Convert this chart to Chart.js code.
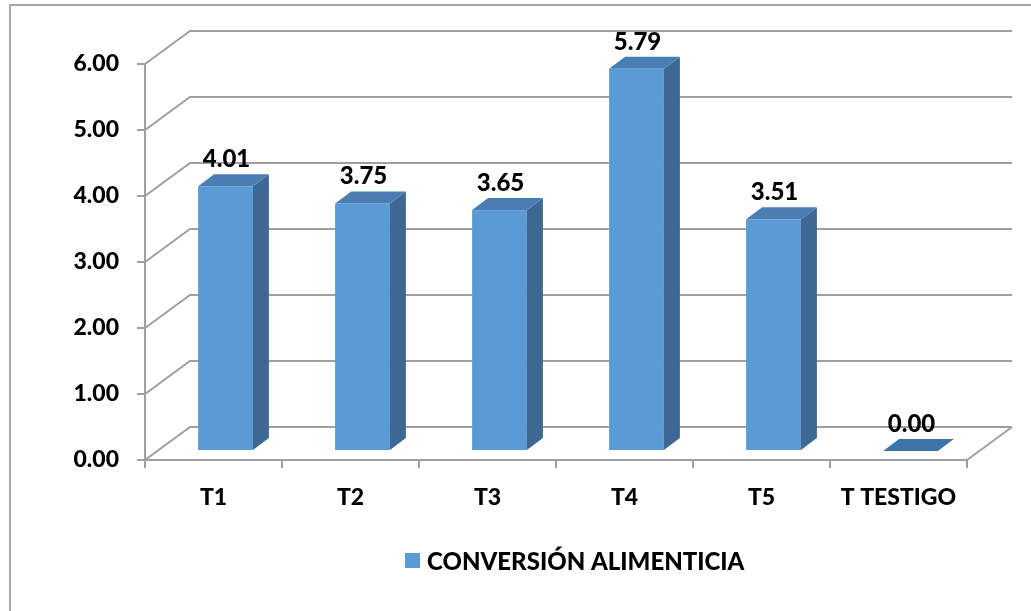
<!DOCTYPE html>
<html><head><meta charset="utf-8">
<script src="https://cdn.jsdelivr.net/npm/chart.js@4/dist/chart.umd.min.js"></script>
<style>html,body{margin:0;padding:0;background:#fff;} #wrap{position:relative;width:1031px;height:611px;}</style>
</head><body><div id="wrap"><canvas id="c" width="1031" height="611"></canvas></div>
<script>
const categories = ['T1', 'T2', 'T3', 'T4', 'T5', 'T TESTIGO'];
const conversion = [4.01, 3.75, 3.65, 5.79, 3.51, 0.00];
const seriesName = 'CONVERSIÓN ALIMENTICIA';
const yTicks = [0, 1, 2, 3, 4, 5, 6];

const FONT = 'Lato, "Open Sans", sans-serif';
const WEIGHT = '900';
const GRID = '#A0A0A0';
const FRONT = '#5B9BD5', SIDE = '#3C6893', TOP = '#4A7EB2';

const threeD = {
  id: 'threeD',
  beforeDraw(chart) {
    const ctx = chart.ctx;
    ctx.save();
    ctx.fillStyle = '#fff';
    ctx.fillRect(0, 0, chart.width, chart.height);
    ctx.strokeStyle = '#A8A8A8';
    ctx.lineWidth = 2;
    ctx.beginPath();
    ctx.moveTo(10, chart.height); ctx.lineTo(10, 5); ctx.lineTo(chart.width, 5);
    ctx.stroke();
    ctx.restore();
  },
  beforeDatasetsDraw(chart) {
    const {ctx, chartArea: a, scales: {y}} = chart;
    const DX = 45, DY = -33;
    ctx.save();
    ctx.strokeStyle = GRID;
    ctx.lineWidth = 2;
    yTicks.forEach(v => {
      const py = y.getPixelForValue(v);
      ctx.beginPath();
      ctx.moveTo(a.left, py);
      ctx.lineTo(a.left + DX, py + DY);
      ctx.lineTo(a.right + DX, py + DY);
      ctx.stroke();
    });
    ctx.beginPath();
    ctx.moveTo(a.right, a.bottom);
    ctx.lineTo(a.right + DX, a.bottom + DY);
    ctx.stroke();
    ctx.restore();
  },
  afterDatasetsDraw(chart) {
    const ctx = chart.ctx;
    const meta = chart.getDatasetMeta(0);
    const ox = 12, oy = -9, sx = 16, sy = -12;
    ctx.save();
    meta.data.forEach((bar, i) => {
      const p = bar.getProps(['x', 'y', 'base', 'width'], true);
      const x0 = p.x - p.width / 2 + ox, x1 = p.x + p.width / 2 + ox;
      const yt = p.y + oy, yb = p.base + oy;
      if (yb - yt > 0.5) {
        ctx.fillStyle = FRONT;
        ctx.fillRect(x0, yt, x1 - x0, yb - yt);
        ctx.fillStyle = SIDE;
        ctx.beginPath();
        ctx.moveTo(x1, yt); ctx.lineTo(x1 + sx, yt + sy); ctx.lineTo(x1 + sx, yb + sy); ctx.lineTo(x1, yb);
        ctx.closePath(); ctx.fill();
      }
      ctx.fillStyle = (yb - yt > 0.5) ? TOP : '#3F74AA';
      ctx.beginPath();
      ctx.moveTo(x0, yt); ctx.lineTo(x1, yt); ctx.lineTo(x1 + sx, yt + sy); ctx.lineTo(x0 + sx, yt + sy);
      ctx.closePath(); ctx.fill();
      ctx.fillStyle = '#000';
      ctx.font = WEIGHT + ' 24px ' + FONT;
      ctx.textAlign = 'center';
      ctx.textBaseline = 'middle';
      ctx.fillText(conversion[i].toFixed(2), (x0 + x1) / 2 + 1, yt - 27);
    });
    ctx.restore();
  },
  afterDraw(chart) {
    const ctx = chart.ctx;
    ctx.save();
    ctx.fillStyle = FRONT;
    ctx.fillRect(405, 553, 15, 15);
    ctx.fillStyle = '#000';
    ctx.font = WEIGHT + ' 23px ' + FONT;
    ctx.textAlign = 'left';
    ctx.textBaseline = 'middle';
    const w = ctx.measureText(seriesName).width;
    const size = Math.round(23 * 315 / w);
    ctx.font = WEIGHT + ' ' + Math.min(26, Math.max(20, size)) + 'px ' + FONT;
    ctx.fillText(seriesName, 427, 562);
    ctx.restore();
  }
};

new Chart(document.getElementById('c'), {
  type: 'bar',
  data: {
    labels: categories,
    datasets: [{
      label: seriesName,
      data: conversion,
      backgroundColor: 'rgba(0,0,0,0)',
      borderWidth: 0,
      categoryPercentage: 1,
      barPercentage: 0.4
    }]
  },
  options: {
    responsive: false,
    animation: false,
    devicePixelRatio: 1,
    layout: {padding: {left: 0, top: 64, right: 64, bottom: 0}},
    plugins: {legend: {display: false}, tooltip: {enabled: false}},
    scales: {
      x: {
        afterFit(s) { s.height = 151; },
        grid: {drawOnChartArea: false, drawTicks: true, tickLength: 8, color: GRID, lineWidth: 2, offset: true},
        border: {display: true, color: GRID, width: 2},
        ticks: {color: '#000', font: {family: FONT, size: 23, weight: WEIGHT}, padding: 16, maxRotation: 0, autoSkip: false}
      },
      y: {
        min: 0, max: 6,
        afterFit(s) { s.width = 145; },
        afterBuildTicks(s) { s.ticks = yTicks.map(v => ({value: v})); },
        grid: {drawOnChartArea: false, drawTicks: true, tickLength: 8, color: GRID, lineWidth: 2},
        border: {display: true, color: GRID, width: 2},
        ticks: {color: '#000', font: {family: FONT, size: 23, weight: WEIGHT}, padding: 18, callback: v => Number(v).toFixed(2)}
      }
    }
  },
  plugins: [threeD]
});
</script>
</body></html>
